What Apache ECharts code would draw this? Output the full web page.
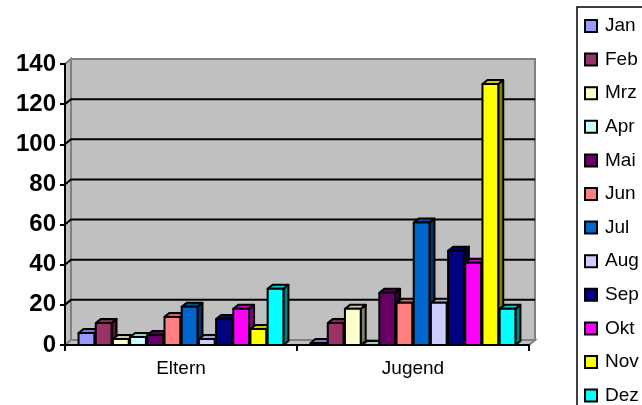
<!DOCTYPE html>
<html>
<head>
<meta charset="utf-8">
<script src="https://cdn.jsdelivr.net/npm/echarts@6/dist/echarts.min.js"></script>
<style>
  html, body { margin: 0; padding: 0; background: #fff; }
  #chart { width: 642px; height: 405px; }
</style>
</head>
<body>
<div id="chart"></div>
<script>
// Groups on the category axis
const categories = ['Eltern', 'Jugend'];
// Months (one column per month within each group)
const months = ['Jan', 'Feb', 'Mrz', 'Apr', 'Mai', 'Jun', 'Jul', 'Aug', 'Sep', 'Okt', 'Nov', 'Dez'];
// Values per month: [Eltern, Jugend]
const Jan = [6, 1];
const Feb = [11, 11];
const Mrz = [3, 18];
const Apr = [4, 0];
const Mai = [5, 26];
const Jun = [14, 21];
const Jul = [19, 61];
const Aug = [3, 21];
const Sep = [13, 47];
const Okt = [18, 41];
const Nov = [8, 130];
const Dez = [28, 18];
const monthValues = [Jan, Feb, Mrz, Apr, Mai, Jun, Jul, Aug, Sep, Okt, Nov, Dez];
// Value axis ticks
const valueTicks = [0, 20, 40, 60, 80, 100, 120, 140];
// Column colours
const monthColors = ['#9999FF', '#993366', '#FFFFCC', '#CCFFFF', '#660066', '#FF8080',
                     '#0066CC', '#CCCCFF', '#000080', '#FF00FF', '#FFFF00', '#00FFFF'];

const FONT = '"Liberation Sans", Arial, sans-serif';
const WALL_DX = 6, WALL_DY = -5;   // depth of the back wall
const BAR_DX = 5, BAR_DY = -4;     // depth of each column

function shade(hex, f) {
  const n = parseInt(hex.slice(1), 16);
  const r = Math.round(((n >> 16) & 255) * f);
  const g = Math.round(((n >> 8) & 255) * f);
  const b = Math.round((n & 255) * f);
  return 'rgb(' + r + ',' + g + ',' + b + ')';
}

// Back wall, side wall, floor and gridlines of the 3D box
function renderFrame(params, api) {
  const cs = params.coordSys;
  const x = cs.x, y = cs.y, w = cs.width, h = cs.height;
  const wallStyle = { fill: '#C0C0C0', stroke: '#808080', lineWidth: 2 };
  const children = [
    { type: 'polygon', shape: { points: [[x, y + h], [x, y], [x + WALL_DX, y + WALL_DY], [x + WALL_DX, y + h + WALL_DY]] }, style: wallStyle },
    { type: 'rect', shape: { x: x + WALL_DX, y: y + WALL_DY, width: w, height: h }, style: wallStyle },
    { type: 'polygon', shape: { points: [[x, y + h], [x + w, y + h], [x + w + WALL_DX, y + h + WALL_DY], [x + WALL_DX, y + h + WALL_DY]] }, style: wallStyle }
  ];
  valueTicks.forEach(function (v) {
    if (v === valueTicks[0] || v === valueTicks[valueTicks.length - 1]) return;
    const py = api.coord([0, v])[1];
    children.push({
      type: 'polyline',
      shape: { points: [[x, py], [x + WALL_DX, py + WALL_DY], [x + w + WALL_DX, py + WALL_DY]] },
      style: { stroke: '#000', lineWidth: 2, fill: null }
    });
  });
  return { type: 'group', children: children };
}

// One 3D column: front face, top face and right side
function makeColumnRenderer(monthIndex) {
  const color = monthColors[monthIndex];
  return function (params, api) {
    const cat = api.value(0);
    const val = api.value(1);
    const catW = api.size([1, 0])[0];
    const pitch = catW * 0.0741;
    const bw = catW * 0.068;
    const base = api.coord([cat, 0]);
    const top = api.coord([cat, val]);
    const cx = base[0] + (monthIndex - (months.length - 1) / 2) * pitch;
    const x0 = cx - bw / 2, x1 = cx + bw / 2;
    const yb = base[1], yt = top[1];
    const line = { stroke: '#000', lineWidth: 2, lineJoin: 'round' };
    return {
      type: 'group',
      children: [
        { type: 'polygon', shape: { points: [[x1, yt], [x1 + BAR_DX, yt + BAR_DY], [x1 + BAR_DX, yb + BAR_DY], [x1, yb]] },
          style: Object.assign({ fill: shade(color, 0.5) }, line) },
        { type: 'polygon', shape: { points: [[x0, yt], [x1, yt], [x1 + BAR_DX, yt + BAR_DY], [x0 + BAR_DX, yt + BAR_DY]] },
          style: Object.assign({ fill: shade(color, 0.8) }, line) },
        { type: 'rect', shape: { x: x0, y: yt, width: bw, height: Math.max(yb - yt, 0) },
          style: Object.assign({ fill: color }, line) }
      ]
    };
  };
}

const series = [{
  type: 'custom',
  name: 'frame',
  z: 1,
  silent: true,
  renderItem: renderFrame,
  data: [[0, 0]]
}];
months.forEach(function (m, i) {
  series.push({
    type: 'custom',
    name: m,
    z: 3,
    itemStyle: { color: monthColors[i] },
    renderItem: makeColumnRenderer(i),
    data: monthValues[i].map(function (v, c) { return [c, v]; })
  });
});

const chart = echarts.init(document.getElementById('chart'), null, { renderer: 'canvas' });
chart.setOption({
  animation: false,
  backgroundColor: '#fff',
  grid: { left: 65, right: 113, top: 64, bottom: 60, show: false },
  xAxis: {
    type: 'category',
    data: categories,
    z: 5,
    axisLine: { lineStyle: { color: '#000', width: 2 } },
    axisTick: { show: true, length: 6, lineStyle: { color: '#000', width: 2 } },
    axisLabel: { color: '#000', fontFamily: FONT, fontSize: 19, margin: 14 },
    splitLine: { show: false }
  },
  yAxis: {
    type: 'value',
    min: valueTicks[0],
    max: valueTicks[valueTicks.length - 1],
    interval: valueTicks[1] - valueTicks[0],
    z: 5,
    axisLine: { show: true, lineStyle: { color: '#000', width: 2 } },
    axisTick: { show: true, length: 5, lineStyle: { color: '#000', width: 2 } },
    axisLabel: { color: '#000', fontFamily: FONT, fontSize: 24, fontWeight: 'bold', margin: 9 },
    splitLine: { show: false }
  },
  legend: {
    data: months,
    orient: 'vertical',
    left: 577,
    top: 7,
    height: 460,
    icon: 'rect',
    itemWidth: 12,
    itemHeight: 12,
    itemGap: 13.6,
    itemStyle: { borderColor: '#000', borderWidth: 2 },
    borderColor: '#000',
    borderWidth: 1.5,
    padding: [9, 30, 30, 7],
    textStyle: { color: '#000', fontFamily: FONT, fontSize: 19, lineHeight: 20, padding: [0, 0, 0, 3] },
    selectedMode: false
  },
  series: series
});
</script>
</body>
</html>
